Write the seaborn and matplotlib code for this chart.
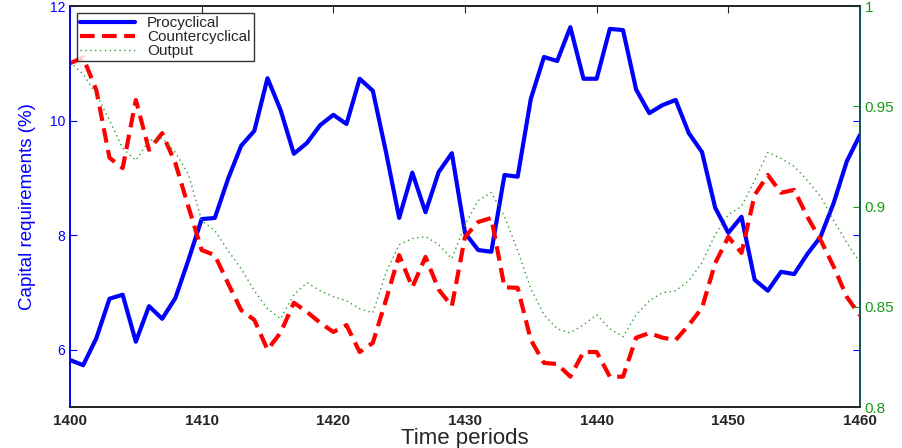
import numpy as np
import pandas as pd
import seaborn as sns
import matplotlib.pyplot as plt

# Time axis
periods = list(range(1400, 1461))

# Capital requirements (%) - procyclical rule
procyclical = [5.82, 5.73, 6.20, 6.89, 6.96, 6.14, 6.76, 6.54, 6.90, 7.57,
               8.28, 8.30, 8.98, 9.56, 9.82, 10.74, 10.18, 9.42, 9.61, 9.92,
               10.10, 9.94, 10.73, 10.52, 9.45, 8.30, 9.09, 8.40, 9.10, 9.43,
               8.04, 7.74, 7.71, 9.05, 9.02, 10.38, 11.11, 11.04, 11.63, 10.73,
               10.73, 11.60, 11.58, 10.54, 10.13, 10.27, 10.36, 9.78, 9.45, 8.48,
               8.04, 8.32, 7.22, 7.03, 7.36, 7.32, 7.67, 7.97, 8.56, 9.29, 9.75]

# Capital requirements (%) - countercyclical rule
countercyclical = [11.00, 11.10, 10.53, 9.35, 9.17, 10.36, 9.49, 9.78, 9.26, 8.49,
                   7.74, 7.65, 7.16, 6.69, 6.52, 6.00, 6.30, 6.82, 6.66, 6.47,
                   6.31, 6.43, 5.96, 6.12, 6.87, 7.65, 7.09, 7.62, 7.05, 6.76,
                   7.97, 8.23, 8.30, 7.09, 7.08, 6.17, 5.77, 5.75, 5.53, 5.96,
                   5.96, 5.53, 5.53, 6.21, 6.29, 6.21, 6.17, 6.43, 6.73, 7.51,
                   7.97, 7.69, 8.70, 9.05, 8.74, 8.79, 8.32, 7.92, 7.45, 6.92, 6.60]

# Output (right axis)
output = [0.972, 0.966, 0.956, 0.943, 0.929, 0.923, 0.933, 0.934, 0.927, 0.916,
          0.893, 0.888, 0.878, 0.869, 0.858, 0.849, 0.844, 0.856, 0.862, 0.858,
          0.855, 0.853, 0.849, 0.847, 0.867, 0.881, 0.884, 0.885, 0.881, 0.874,
          0.891, 0.903, 0.907, 0.895, 0.878, 0.859, 0.846, 0.839, 0.837, 0.841,
          0.846, 0.839, 0.835, 0.846, 0.853, 0.857, 0.858, 0.863, 0.872, 0.886,
          0.896, 0.900, 0.913, 0.927, 0.924, 0.920, 0.913, 0.905, 0.893, 0.882, 0.872]

df = pd.DataFrame({'period': periods, 'pro': procyclical,
                   'counter': countercyclical, 'output': output})

sns.set_style("white")
plt.rcParams['font.family'] = ['Liberation Sans', 'DejaVu Sans']

fig = plt.figure(figsize=(9.02, 4.48), dpi=100)
ax = fig.add_axes([70 / 902, 41 / 448, 790 / 902, 401 / 448])
ax2 = ax.twinx()

sns.lineplot(data=df, x='period', y='pro', ax=ax, color='#0000ff', linewidth=3, label='Procyclical')
sns.lineplot(data=df, x='period', y='counter', ax=ax, color='#ff0000', linewidth=3,
             linestyle=(0, (3.5, 1.8)), label='Countercyclical')
sns.lineplot(data=df, x='period', y='output', ax=ax2, color='#2ca02c', linewidth=1,
             linestyle=(0, (1, 2.5)), legend=False)
# empty handle so the output series shows up in the left-axis legend
ax.plot([], [], color='#2ca02c', linewidth=1, linestyle=(0, (1, 2.5)), label='Output')

ax.set_xlim(1400, 1460)
ax.set_ylim(5, 12)
ax2.set_ylim(0.8, 1.0)
ax.set_xticks([1400, 1410, 1420, 1430, 1440, 1450, 1460])
ax.set_yticks([6, 8, 10, 12])
ax2.set_yticks([0.8, 0.85, 0.9, 0.95, 1.0])
ax2.set_yticklabels(['0.8', '0.85', '0.9', '0.95', '1'])

ax.set_xlabel('Time periods', fontsize=16, labelpad=0)
ax.set_ylabel('Capital requirements (%)', fontsize=13.5, color='#0000ff', labelpad=10)
ax2.set_ylabel('')

ax.tick_params(axis='x', direction='in', labelsize=11, length=5, top=True, pad=5)
ax.tick_params(axis='y', direction='in', colors='#0000ff', labelsize=10, length=5, right=True)
ax2.tick_params(axis='y', direction='in', colors='#1a9a1a', labelsize=11, length=5)
for lab in ax.get_xticklabels():
    lab.set_fontweight('bold')

ax.spines['left'].set_color('#0000ff')
ax2.spines['left'].set_color('#0000ff')
ax2.spines['right'].set_color('#0b5a5a')
for sp in ['top', 'bottom']:
    ax.spines[sp].set_color('black')
for a in (ax, ax2):
    for sp in a.spines.values():
        sp.set_linewidth(1.2)

leg = ax.legend(loc='upper left', fontsize=11, frameon=True, fancybox=False,
                edgecolor='black', borderpad=0.2, labelspacing=0.0, handlelength=3.6,
                borderaxespad=0.45)
leg.get_frame().set_linewidth(1)

fig.savefig('out.png', dpi=100)
